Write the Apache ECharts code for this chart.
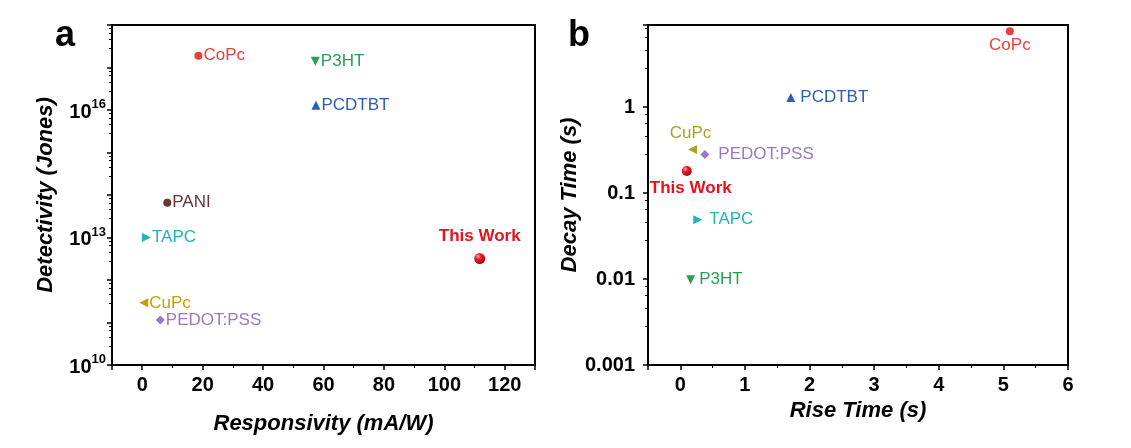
<!DOCTYPE html>
<html>
<head>
<meta charset="utf-8">
<script src="https://cdn.jsdelivr.net/npm/echarts@6/dist/echarts.min.js"></script>
<style>
  html, body { margin: 0; background: #fff; }
  #chart { width: 1131px; height: 448px; }
</style>
</head>
<body>
<div id="chart"></div>
<script>
// panel a: responsivity vs detectivity
const namesA = ['CoPc', 'P3HT', 'PCDTBT', 'PANI', 'TAPC', 'This Work', 'CuPc', 'PEDOT:PSS']
const responsivity = [18.6, 57.3, 57.5, 8.3, 1.4, 111.7, 0.5, 6.0]
const detectivity = [1.9e17, 1.4e17, 1.3e16, 6.6e13, 1.0e13, 3.2e12, 2.9e11, 1.15e11]
const labelExpA = [10, 13, 16] // exponents that get a label on the y axis

// panel b: rise time vs decay time
const namesB = ['CoPc', 'PCDTBT', 'CuPc', 'PEDOT:PSS', 'This Work', 'TAPC', 'P3HT']
const riseTime = [5.1, 1.71, 0.19, 0.38, 0.1, 0.27, 0.16]
const decayTime = [7.6, 1.29, 0.32, 0.28, 0.18, 0.049, 0.0098]

const FONT = 'Liberation Sans, Arial, sans-serif'

// marker look per material
const look = {
  'CoPc': { color: '#e8403a', symbol: 'circle', size: 8 },
  'P3HT': { color: '#2a9d57', symbol: 'triangle', rotate: 180, size: 9 },
  'PCDTBT': { color: '#2c5fb3', symbol: 'triangle', size: 9 },
  'PANI': { color: '#6b3535', symbol: 'circle', size: 8 },
  'TAPC': { color: '#1fb5b3', symbol: 'triangle', rotate: -90, size: 9 },
  'This Work': { color: '#e3121c', symbol: 'circle', size: 11 },
  'CuPc': { color: '#c79f00', symbol: 'triangle', rotate: 90, size: 9 },
  'PEDOT:PSS': { color: '#977ac3', symbol: 'diamond', size: 9 },
}
const cupcColorB = '#a6a322'

// label placement per panel
const labelA = {
  'This Work': { position: 'top', distance: 8 },
}
const labelB = {
  'CoPc': { position: 'bottom', distance: 1 },
  'PCDTBT': { position: 'right', distance: 5 },
  'CuPc': { position: 'top', distance: 3, offset: [-2, 0] },
  'PEDOT:PSS': { position: 'right', distance: 9 },
  'This Work': { position: 'bottom', distance: 4, offset: [4, 0] },
  'TAPC': { position: 'right', distance: 7 },
  'P3HT': { position: 'right', distance: 4 },
}

// glossy ball for this work
const glossy = {
  type: 'radial', x: 0.35, y: 0.3, r: 0.7,
  colorStops: [
    { offset: 0, color: '#ffb0b0' },
    { offset: 0.35, color: '#f0222a' },
    { offset: 1, color: '#b00010' },
  ],
}

function makeSeries(names, xs, ys, panel) {
  return names.map((name, i) => {
    const lk = look[name]
    const lb = (panel === 0 ? labelA : labelB)[name] || { position: 'right', distance: 1 }
    let color = lk.color
    if (panel === 1 && name === 'CuPc') color = cupcColorB
    const isOurs = name === 'This Work'
    return {
      name: name,
      type: 'scatter',
      xAxisIndex: panel,
      yAxisIndex: panel,
      symbol: lk.symbol,
      symbolRotate: lk.rotate || 0,
      symbolSize: panel === 1 && isOurs ? 10 : lk.size,
      itemStyle: { color: isOurs ? glossy : color, opacity: 1 },
      label: {
        show: true,
        formatter: name,
        position: lb.position,
        distance: lb.distance,
        offset: lb.offset || [0, 0],
        color: color,
        opacity: 1,
        fontFamily: FONT,
        fontSize: 17,
        fontWeight: isOurs ? 'bold' : 'normal',
      },
      data: [[xs[i], ys[i]]],
    }
  })
}

const axisCommon = {
  axisLine: { show: true, onZero: false, lineStyle: { color: '#000', width: 2 } },
  axisTick: { show: true, length: 5, lineStyle: { color: '#000', width: 1.5 } },
  minorTick: { show: true, length: 3, lineStyle: { color: '#000', width: 1 } },
  splitLine: { show: false },
  nameLocation: 'middle',
  nameTextStyle: { fontFamily: FONT, fontSize: 22, fontWeight: 'bold', fontStyle: 'italic', color: '#000' },
}
const tickFont = { fontFamily: FONT, fontSize: 20, fontWeight: 'bold', color: '#000' }

const option = {
  animation: false,
  backgroundColor: '#fff',
  grid: [
    { left: 112, top: 25, width: 423, height: 340, show: true, borderColor: '#000', borderWidth: 2 },
    { left: 648, top: 25, width: 420, height: 340, show: true, borderColor: '#000', borderWidth: 2 },
  ],
  xAxis: [
    {
      ...axisCommon,
      gridIndex: 0,
      type: 'value',
      min: -10,
      max: 130,
      splitNumber: 7,
      minorTick: { ...axisCommon.minorTick, splitNumber: 2 },
      name: 'Responsivity (mA/W)',
      nameGap: 48,
      axisLabel: { ...tickFont, margin: 10, formatter: v => (v % 20 === 0 ? String(v) : '') },
    },
    {
      ...axisCommon,
      gridIndex: 1,
      type: 'value',
      min: -0.5,
      max: 6,
      splitNumber: 6,
      minorTick: { ...axisCommon.minorTick, splitNumber: 2 },
      name: 'Rise Time (s)',
      nameGap: 35,
      axisLabel: { ...tickFont, margin: 10, formatter: v => (Number.isInteger(v) ? String(v) : '') },
    },
  ],
  yAxis: [
    {
      ...axisCommon,
      gridIndex: 0,
      type: 'log',
      logBase: 10,
      min: 1e10,
      max: 1e18,
      interval: 1,
      splitNumber: 8,
      minorTick: { ...axisCommon.minorTick, splitNumber: 5 },
      name: 'Detectivity (Jones)',
      nameGap: 55,
      axisLabel: {
        ...tickFont,
        margin: 6,
        formatter: v => {
          const e = Math.round(Math.log10(v))
          return labelExpA.includes(e) ? '{b|10}{s|' + e + '}' : ''
        },
        rich: {
          b: { fontFamily: FONT, fontSize: 20, fontWeight: 'bold', color: '#000', lineHeight: 24, verticalAlign: 'bottom', padding: [0, 0, 0, 0] },
          s: { fontFamily: FONT, fontSize: 13, fontWeight: 'bold', color: '#000', lineHeight: 24, verticalAlign: 'top' },
        },
      },
    },
    {
      ...axisCommon,
      gridIndex: 1,
      type: 'log',
      logBase: 10,
      min: 0.001,
      max: 9,
      interval: 1,
      splitNumber: 4,
      minorTick: { ...axisCommon.minorTick, splitNumber: 5 },
      name: 'Decay Time (s)',
      nameGap: 54,
      axisLabel: {
        ...tickFont,
        margin: 13,
        formatter: v => {
          const e = Math.log10(v)
          if (Math.abs(e - Math.round(e)) > 1e-6) return ''
          return String(Number(v.toPrecision(3)))
        },
      },
    },
  ],
  graphic: [
    { type: 'text', left: 55, top: 18, style: { text: 'a', font: 'bold 36px ' + FONT, fill: '#000' } },
    { type: 'text', left: 568, top: 18, style: { text: 'b', font: 'bold 36px ' + FONT, fill: '#000' } },
  ],
  series: [
    ...makeSeries(namesA, responsivity, detectivity, 0),
    ...makeSeries(namesB, riseTime, decayTime, 1),
  ],
}

echarts.init(document.getElementById('chart')).setOption(option)
</script>
</body>
</html>
